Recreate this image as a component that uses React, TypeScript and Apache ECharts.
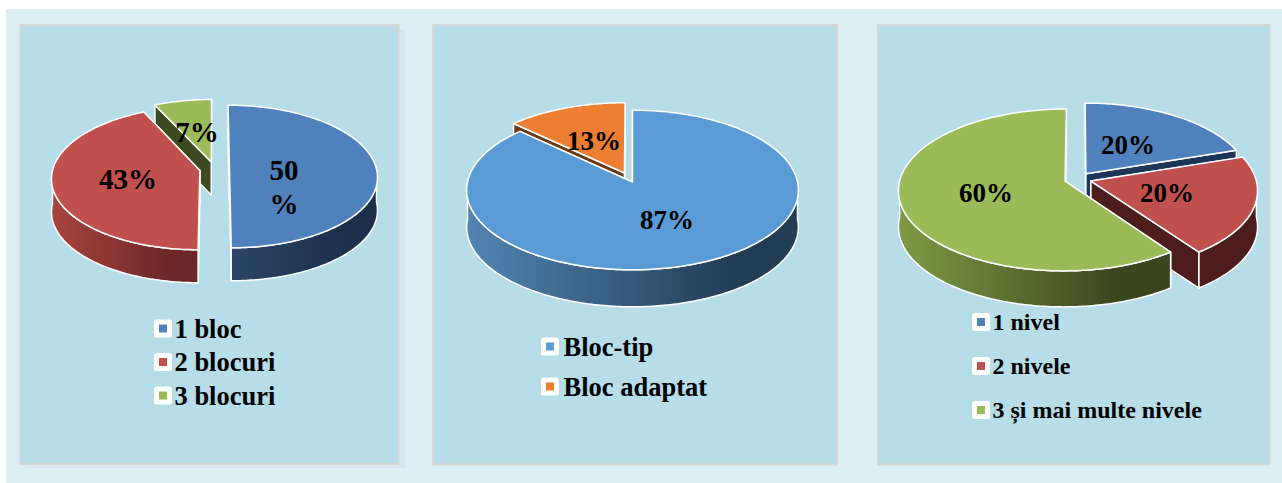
import React, { useEffect, useRef } from "react";
import * as echarts from "echarts";

const blocNames = ["1 bloc", "2 blocuri", "3 blocuri"];
const blocValues = [50, 43, 7];
const tipNames = ["Bloc-tip", "Bloc adaptat"];
const tipValues = [87, 13];
const nivelNames = ["1 nivel", "2 nivele", "3 și mai multe nivele"];
const nivelValues = [20, 20, 60];

const FONT = "Liberation Serif";

type Pie = {
  names: string[]; values: number[];
  cx: number; cy: number; R: number; f: number; k: number; depth: number;
  explode: number[]; colors: string[]; walls: string[][]; cuts: string[];
  labels: number[][]; labelSize: number; breakLabel?: number;
};

const pies: Pie[] = [
  {
    names: blocNames, values: blocValues,
    cx: 214.5, cy: 169, R: 147, f: 70.5, k: 0.105, depth: 33,
    explode: [0.102, 0.102, 0.102],
    colors: ["#4F81BD", "#C0504D", "#9BBB59"],
    walls: [["#2C4568", "#1C2F4B"], ["#A8443F", "#6C2828"], ["#5C7030", "#3E4A20"]],
    cuts: ["#1C2F4B", "#4D1C1C", "#3E4A20"],
    labels: [[284, 187], [128, 179], [197, 132]], labelSize: 29, breakLabel: 0,
  },
  {
    names: tipNames, values: tipValues,
    cx: 632.5, cy: 182, R: 165, f: 79, k: 0.1, depth: 37,
    explode: [0, 0.125],
    colors: ["#5B9BD5", "#ED7D31"],
    walls: [["#5285B3", "#233D55"], ["#8A4A1C", "#6B3A14"]],
    cuts: ["#233D55", "#6B3A14"],
    labels: [[667, 220], [594, 141]], labelSize: 27,
  },
  {
    names: nivelNames, values: nivelValues,
    cx: 1078, cy: 179, R: 165, f: 79.5, k: 0.11, depth: 36,
    explode: [0.082, 0.082, 0.082],
    colors: ["#4F81BD", "#C0504D", "#9BBB59"],
    walls: [["#1D3557", "#1D3557"], ["#4D1C1C", "#4D1C1C"], ["#7F9B45", "#3A471E"]],
    cuts: ["#1D3557", "#4D1C1C", "#3A471E"],
    labels: [[1128, 145], [1167, 193], [986, 193]], labelSize: 27,
  },
];

const legends = [
  { names: blocNames, left: 154, top: 315, size: 26.5, gap: 6.5, pad: 0 },
  { names: tipNames, left: 541, top: 333, size: 26.5, gap: 13, pad: 2 },
  { names: nivelNames, left: 972, top: 310, size: 24, gap: 20, pad: 0 },
];

const rad = (d: number) => (d * Math.PI) / 180;

function sliceSeries(pie: Pie, i: number) {
  const total = pie.values.reduce((a, b) => a + b, 0);
  const before = pie.values.slice(0, i).reduce((a, b) => a + b, 0);
  return {
    type: "custom",
    name: pie.names[i],
    coordinateSystem: "none",
    itemStyle: { color: pie.colors[i] },
    data: [[pie.values[i]]],
    silent: true,
    renderItem: (_p: any, api: any) => {
      const value = api.value(0);
      const a0 = (before / total) * 360;
      const a1 = a0 + (value / total) * 360;
      const mid = rad((a0 + a1) / 2);
      const ox = pie.explode[i] * Math.sin(mid);
      const oy = pie.explode[i] * Math.cos(mid);
      const project = (u: number, v: number): number[] => {
        const w = 1 + pie.k * v;
        return [pie.cx + (pie.R * u) / w, pie.cy - (pie.f * v) / w];
      };
      const rim = (deg: number) => project(Math.sin(rad(deg)) + ox, Math.cos(rad(deg)) + oy);
      const apex = project(ox, oy);
      const down = (p: number[]) => [p[0], p[1] + pie.depth];
      const arc = (from: number, to: number) => {
        const pts: number[][] = [];
        for (let d = from; d < to; d += 1) pts.push(rim(d));
        pts.push(rim(to));
        return pts;
      };
      const stroke = { stroke: "#FFFFFF", lineWidth: 1.5, lineJoin: "round" };
      const children: any[] = [];
      const cutEnds = [a0, a1].sort((p, q) => rim(p)[1] - rim(q)[1]);
      for (const end of cutEnds) {
        const p = rim(end);
        children.push({
          type: "polygon",
          shape: { points: [apex, p, down(p), down(apex)] },
          style: { fill: pie.cuts[i], ...stroke },
        });
      }
      const fa = Math.max(a0, 90);
      const fb = Math.min(a1, 270);
      if (fb > fa) {
        const top = arc(fa, fb);
        children.push({
          type: "polygon",
          shape: { points: [...top, ...top.map(down).reverse()] },
          style: {
            fill: {
              type: "linear", x: 0, y: 0, x2: 1, y2: 0,
              colorStops: [
                { offset: 0, color: pie.walls[i][0] },
                { offset: 0.8, color: pie.walls[i][1] },
                { offset: 1, color: pie.walls[i][1] },
              ],
            },
            ...stroke,
          },
        });
      }
      children.push({
        type: "polygon",
        shape: { points: [apex, ...arc(a0, a1)] },
        style: { fill: pie.colors[i], ...stroke },
      });
      children.push({
        type: "text",
        z2: 100,
        x: pie.labels[i][0],
        y: pie.labels[i][1],
        style: {
          text: pie.breakLabel === i ? `${value}\n%` : `${value}%`,
          font: `bold ${pie.labelSize}px "${FONT}"`,
          lineHeight: 34,
          fill: "#000000",
          align: "center",
          verticalAlign: "middle",
        },
      });
      return { type: "group", children };
    },
  };
}

function pieSeries(pie: Pie) {
  const total = pie.values.reduce((a, b) => a + b, 0);
  let acc = 0;
  const order = pie.values.map((v, i) => {
    const m = rad(((acc + v / 2) / total) * 360);
    acc += v;
    return { i, back: Math.cos(m) };
  });
  order.sort((a, b) => b.back - a.back || a.i - b.i);
  return order.map((o) => sliceSeries(pie, o.i));
}

const panelRect = (x: number, y: number, width: number, height: number, fill: string, stroke?: string) => ({
  type: "rect",
  shape: { x, y, width, height },
  style: { fill, stroke: stroke ?? "none", lineWidth: stroke ? 2 : 0 },
  silent: true,
});

export default function App() {
  const ref = useRef<HTMLDivElement>(null);
  useEffect(() => {
    const chart = echarts.init(ref.current!, undefined, { renderer: "svg" });
    chart.setOption({
      animation: false,
      backgroundColor: "#FFFFFF",
      graphic: {
        elements: [
          panelRect(6, 9, 1276, 474, "#DBEEF4"),
          panelRect(25, 30, 380, 438, "#D8E4F0"),
          panelRect(20.5, 25, 378, 439, "#B7DDE8", "#D6D6D6"),
          panelRect(433, 25, 404, 439.5, "#B7DDE8", "#D6D6D6"),
          panelRect(878, 25, 391.5, 439.5, "#B7DDE8", "#D6D6D6"),
        ],
      },
      legend: legends.map((l) => ({
        data: l.names,
        orient: "vertical",
        left: l.left,
        top: l.top,
        padding: 0,
        itemWidth: 13,
        itemHeight: 13,
        itemGap: l.gap,
        icon: "rect",
        selectedMode: false,
        itemStyle: { borderColor: "#FFFFFF", borderWidth: 5, borderJoin: "round" },
        textStyle: { fontFamily: FONT, fontWeight: "bold", fontSize: l.size, color: "#000000", padding: [0, 0, 0, l.pad] },
      })),
      series: pies.flatMap(pieSeries),
    });
    return () => chart.dispose();
  }, []);
  return <div ref={ref} style={{ position: "fixed", left: 0, top: 0, width: 1282, height: 483 }} />;
}
